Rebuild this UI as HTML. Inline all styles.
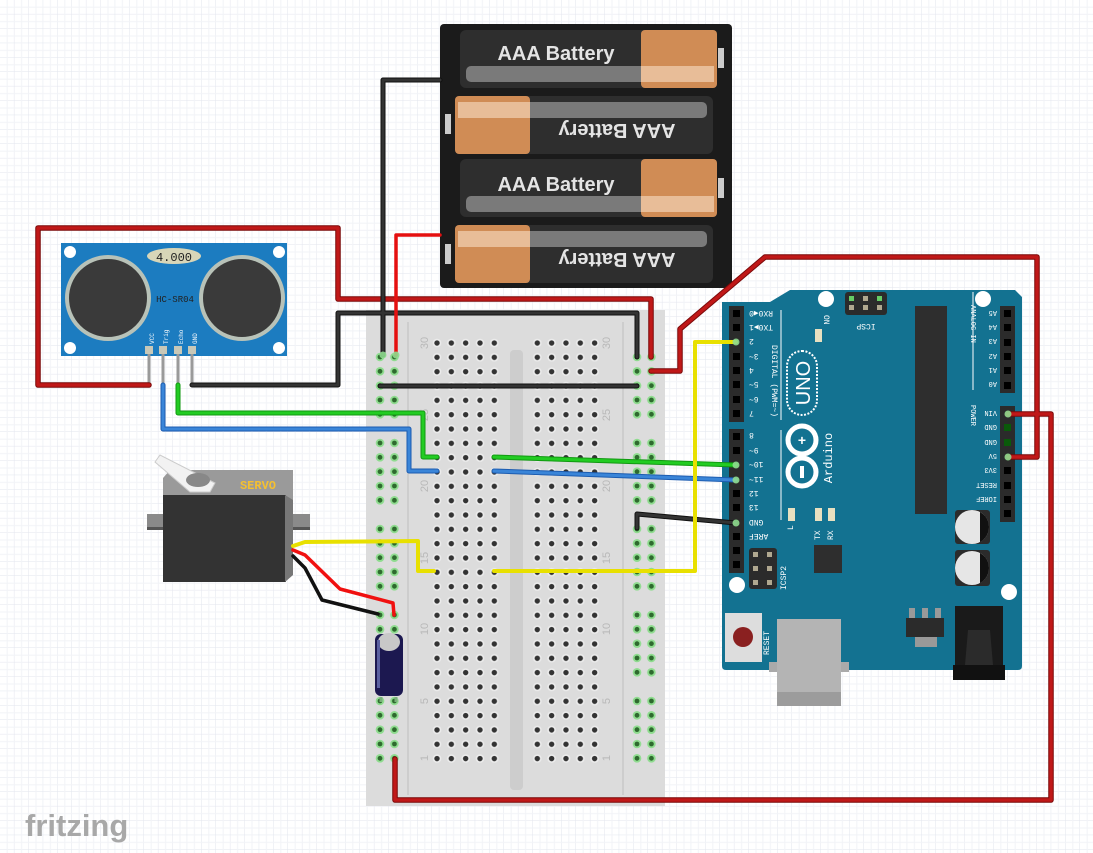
<!DOCTYPE html>
<html><head><meta charset="utf-8"><style>
html,body{margin:0;padding:0;background:#fff;}
svg{display:block;font-family:"Liberation Sans",sans-serif;}
.m{font-family:"Liberation Mono",monospace;}
</style></head><body>
<svg width="1093" height="853" viewBox="0 0 1093 853" xmlns="http://www.w3.org/2000/svg">
<defs>
<pattern id="grid" x="0" y="0" width="14.4" height="14.4" patternUnits="userSpaceOnUse">
<path d="M14.4 0V14.4H0" fill="none" stroke="#e2e5ee" stroke-width="1"/>
<path d="M7.2 0V14.4M0 7.2H14.4" fill="none" stroke="#f2f3f7" stroke-width="1"/>
</pattern>
<pattern id="mh" x="430" y="336" width="14.33" height="14.33" patternUnits="userSpaceOnUse">
<circle cx="7" cy="7" r="4.3" fill="#ececec"/><circle cx="7" cy="7" r="2.7" fill="#333"/>
</pattern>
<pattern id="rh" x="373" y="350" width="14.4" height="86" patternUnits="userSpaceOnUse">
<g id="rg"><circle cx="7" cy="7" r="4.3" fill="#8fdc8f"/><circle cx="7" cy="7" r="2.4" fill="#2e6a2e"/></g>
<use href="#rg" y="14.33"/><use href="#rg" y="28.66"/><use href="#rg" y="43"/><use href="#rg" y="57.33"/>
</pattern>
<pattern id="rh2" x="630" y="350" width="14.4" height="86" patternUnits="userSpaceOnUse">
<use href="#rg"/><use href="#rg" y="14.33"/><use href="#rg" y="28.66"/><use href="#rg" y="43"/><use href="#rg" y="57.33"/>
</pattern>
</defs>
<rect width="1093" height="853" fill="url(#grid)"/>

<!-- Battery pack -->
<rect x="440" y="24" width="292" height="264" rx="4" fill="#1b1b1b"/>
<g>
<rect x="460" y="30" width="257" height="58" rx="6" fill="#2e2e2e"/>
<rect x="641" y="30" width="76" height="58" rx="4" fill="#d08c55"/>
<rect x="466" y="66" width="248" height="16" rx="5" fill="#7a7a7a"/>
<rect x="641" y="66" width="73" height="16" fill="#e8bd98"/>
<text x="556" y="60" font-size="20" font-weight="bold" fill="#e4e4e4" text-anchor="middle">AAA Battery</text>
</g>
<g transform="translate(1173,248) rotate(180)">
<rect x="460" y="94" width="258" height="58" rx="6" fill="#2e2e2e"/>
<rect x="643" y="94" width="75" height="58" rx="4" fill="#d08c55"/>
<rect x="466" y="130" width="249" height="16" rx="5" fill="#7a7a7a"/>
<rect x="643" y="130" width="72" height="16" fill="#e8bd98"/>
<text x="556" y="124" font-size="20" font-weight="bold" fill="#e4e4e4" text-anchor="middle">AAA Battery</text>
</g>
<g>
<rect x="460" y="159" width="257" height="58" rx="6" fill="#2e2e2e"/>
<rect x="641" y="159" width="76" height="58" rx="4" fill="#d08c55"/>
<rect x="466" y="196" width="248" height="16" rx="5" fill="#7a7a7a"/>
<rect x="641" y="196" width="73" height="16" fill="#e8bd98"/>
<text x="556" y="191" font-size="20" font-weight="bold" fill="#e4e4e4" text-anchor="middle">AAA Battery</text>
</g>
<g transform="translate(1173,506) rotate(180)">
<rect x="460" y="223" width="258" height="58" rx="6" fill="#2e2e2e"/>
<rect x="643" y="223" width="75" height="58" rx="4" fill="#d08c55"/>
<rect x="466" y="259" width="249" height="16" rx="5" fill="#7a7a7a"/>
<rect x="643" y="259" width="72" height="16" fill="#e8bd98"/>
<text x="556" y="253" font-size="20" font-weight="bold" fill="#e4e4e4" text-anchor="middle">AAA Battery</text>
</g>
<g fill="#ccc"><rect x="718" y="48" width="6" height="20"/><rect x="445" y="114" width="6" height="20"/><rect x="718" y="178" width="6" height="20"/><rect x="445" y="244" width="6" height="20"/></g>

<!-- Breadboard -->
<rect x="366" y="310" width="299" height="496" fill="#dcdcdc"/>
<rect x="510" y="350" width="13" height="440" rx="4" fill="#cdcdcd"/>
<line x1="408" y1="322" x2="408" y2="795" stroke="#c8c8c8" stroke-width="1.5"/>
<line x1="623" y1="322" x2="623" y2="795" stroke="#c8c8c8" stroke-width="1.5"/>
<rect x="430" y="336" width="72" height="430" fill="url(#mh)"/>
<rect x="530" y="336" width="72" height="430" fill="url(#mh)"/>
<rect x="373" y="350" width="29" height="416" fill="url(#rh)"/>
<rect x="630" y="350" width="29" height="416" fill="url(#rh2)"/>
<g font-size="11" fill="#b8b8b8">
<text transform="translate(428,343) rotate(-90)" text-anchor="middle">30</text>
<text transform="translate(428,415) rotate(-90)" text-anchor="middle">25</text>
<text transform="translate(428,486) rotate(-90)" text-anchor="middle">20</text>
<text transform="translate(428,558) rotate(-90)" text-anchor="middle">15</text>
<text transform="translate(428,629) rotate(-90)" text-anchor="middle">10</text>
<text transform="translate(428,701) rotate(-90)" text-anchor="middle">5</text>
<text transform="translate(428,758) rotate(-90)" text-anchor="middle">1</text>
<text transform="translate(610,343) rotate(-90)" text-anchor="middle">30</text>
<text transform="translate(610,415) rotate(-90)" text-anchor="middle">25</text>
<text transform="translate(610,486) rotate(-90)" text-anchor="middle">20</text>
<text transform="translate(610,558) rotate(-90)" text-anchor="middle">15</text>
<text transform="translate(610,629) rotate(-90)" text-anchor="middle">10</text>
<text transform="translate(610,701) rotate(-90)" text-anchor="middle">5</text>
<text transform="translate(610,758) rotate(-90)" text-anchor="middle">1</text>
</g>

<!-- HC-SR04 -->
<rect x="61" y="243" width="226" height="113" fill="#1c7cc0"/>
<g fill="#fff"><circle cx="70" cy="252" r="6"/><circle cx="279" cy="252" r="6"/><circle cx="70" cy="348" r="6"/><circle cx="279" cy="348" r="6"/></g>
<circle cx="108" cy="298" r="41" fill="#3a3a3a" stroke="#b8c2b8" stroke-width="4"/>
<circle cx="242" cy="298" r="41" fill="#3a3a3a" stroke="#b8c2b8" stroke-width="4"/>
<ellipse cx="174" cy="256" rx="27" ry="8" fill="#d8d6b8"/>
<text x="174" y="261" font-size="12" class="m" fill="#222" text-anchor="middle">4.000</text>
<text x="175" y="302" font-size="9" class="m" fill="#222" text-anchor="middle">HC-SR04</text>
<g font-size="6" fill="#fff" class="m">
<text transform="translate(154,344) rotate(-90)">VCC</text><text transform="translate(168,344) rotate(-90)">Trig</text>
<text transform="translate(183,344) rotate(-90)">Echo</text><text transform="translate(197,344) rotate(-90)">GND</text>
</g>
<g fill="#c8c8b8"><rect x="145" y="346" width="8" height="8"/><rect x="159" y="346" width="8" height="8"/><rect x="174" y="346" width="8" height="8"/><rect x="188" y="346" width="8" height="8"/></g>
<g stroke="#9a9a9a" stroke-width="3"><line x1="149" y1="354" x2="149" y2="385"/><line x1="163" y1="354" x2="163" y2="385"/><line x1="178" y1="354" x2="178" y2="385"/><line x1="192" y1="354" x2="192" y2="385"/></g>

<!-- Servo -->
<rect x="147" y="514" width="163" height="15" fill="#8a8a8a"/>
<rect x="147" y="527" width="163" height="3" fill="#555"/>
<polygon points="170,470 293,470 293,500 163,500 163,478" fill="#9a9a9a"/>
<rect x="163" y="495" width="123" height="87" fill="#333"/>
<polygon points="285,495 293,500 293,575 285,582" fill="#777"/>
<polygon points="155,462 160,455 205,478 215,483 210,492 190,492" fill="#f2f2f2" stroke="#ccc"/>
<ellipse cx="198" cy="480" rx="12" ry="7" fill="#888"/>
<text x="258" y="489" font-size="12" font-weight="bold" fill="#f5c030" text-anchor="middle" class="m">SERVO</text>

<!-- Capacitor -->
<rect x="375" y="634" width="28" height="62" rx="6" fill="#1c1850"/>
<ellipse cx="389" cy="642" rx="11" ry="9" fill="#c8c8c8"/>
<rect x="377" y="640" width="3" height="48" fill="#5a60a0"/>
<g stroke="#7ab07a" stroke-width="3"><line x1="381" y1="697" x2="381" y2="702"/><line x1="396" y1="697" x2="396" y2="702"/></g>

<!-- Arduino -->
<path d="M722 302 L770 302 L790 290 L1015 290 L1022 297 L1022 666 Q1022 670 1018 670 L726 670 Q722 670 722 666 Z" fill="#137291"/>
<g fill="#fff"><circle cx="826" cy="299" r="8"/><circle cx="983" cy="299" r="8"/><circle cx="737" cy="585" r="8"/><circle cx="1009" cy="592" r="8"/></g>
<rect x="729" y="306" width="15" height="116" fill="#2b2b2b"/>
<rect x="729" y="429" width="15" height="144" fill="#2b2b2b"/>
<rect x="1000" y="306" width="15" height="87" fill="#2b2b2b"/>
<rect x="1000" y="406" width="15" height="116" fill="#2b2b2b"/>
<g fill="#000">
<rect x="733" y="310" width="7" height="7"/><rect x="733" y="324" width="7" height="7"/><rect x="733" y="353" width="7" height="7"/><rect x="733" y="367" width="7" height="7"/><rect x="733" y="381" width="7" height="7"/><rect x="733" y="396" width="7" height="7"/><rect x="733" y="410" width="7" height="7"/>
<rect x="733" y="433" width="7" height="7"/><rect x="733" y="447" width="7" height="7"/><rect x="733" y="490" width="7" height="7"/><rect x="733" y="504" width="7" height="7"/><rect x="733" y="533" width="7" height="7"/><rect x="733" y="547" width="7" height="7"/><rect x="733" y="561" width="7" height="7"/>
<rect x="1004" y="310" width="7" height="7"/><rect x="1004" y="324" width="7" height="7"/><rect x="1004" y="339" width="7" height="7"/><rect x="1004" y="353" width="7" height="7"/><rect x="1004" y="367" width="7" height="7"/><rect x="1004" y="382" width="7" height="7"/>
<rect x="1004" y="467" width="7" height="7"/><rect x="1004" y="482" width="7" height="7"/><rect x="1004" y="496" width="7" height="7"/><rect x="1004" y="510" width="7" height="7"/>
</g>
<g fill="#0a5a0a"><rect x="1004" y="424" width="7" height="7"/><rect x="1004" y="439" width="7" height="7"/></g>
<g font-size="8" fill="#fff" class="m">
<g text-anchor="end">
<text transform="translate(749,311) rotate(180)">RX0◀0</text>
<text transform="translate(749,325) rotate(180)">TX0▶1</text>
<text transform="translate(749,339) rotate(180)">2</text><text transform="translate(749,354) rotate(180)">3~</text>
<text transform="translate(749,368) rotate(180)">4</text><text transform="translate(749,382) rotate(180)">5~</text>
<text transform="translate(749,397) rotate(180)">6~</text><text transform="translate(749,411) rotate(180)">7</text>
<text transform="translate(749,433) rotate(180)">8</text><text transform="translate(749,448) rotate(180)">9~</text>
<text transform="translate(749,462) rotate(180)">10~</text><text transform="translate(749,477) rotate(180)">11~</text>
<text transform="translate(749,491) rotate(180)">12</text><text transform="translate(749,505) rotate(180)">13</text>
<text transform="translate(749,520) rotate(180)">GND</text><text transform="translate(749,534) rotate(180)">AREF</text>
</g>
<text transform="translate(772,345) rotate(90)">DIGITAL (PWM=~)</text>
<g font-size="7">
<text transform="translate(997,311) rotate(180)">A5</text>
<text transform="translate(997,325) rotate(180)">A4</text>
<text transform="translate(997,339) rotate(180)">A3</text>
<text transform="translate(997,354) rotate(180)">A2</text>
<text transform="translate(997,368) rotate(180)">A1</text>
<text transform="translate(997,382) rotate(180)">A0</text>
<text transform="translate(997,411) rotate(180)">VIN</text>
<text transform="translate(997,425) rotate(180)">GND</text>
<text transform="translate(997,440) rotate(180)">GND</text>
<text transform="translate(997,454) rotate(180)">5V</text>
<text transform="translate(997,468) rotate(180)">3V3</text>
<text transform="translate(997,483) rotate(180)">RESET</text>
<text transform="translate(997,497) rotate(180)">IOREF</text>
<text transform="translate(971,305) rotate(90)">ANALOG IN</text>
<text transform="translate(971,405) rotate(90)">POWER</text>
</g>
<text transform="translate(824,315) rotate(90)">ON</text>
<text x="866" y="324" transform="rotate(180,866,324)" text-anchor="middle">ICSP</text>
<text transform="translate(793,530) rotate(-90)">L</text>
<text transform="translate(820,540) rotate(-90)">TX</text>
<text transform="translate(833,540) rotate(-90)">RX</text>
<text transform="translate(786,590) rotate(-90)">ICSP2</text>
<text transform="translate(769,655) rotate(-90)">RESET</text>
</g>
<line x1="781" y1="310" x2="781" y2="420" stroke="#fff" stroke-width="1"/>
<line x1="781" y1="430" x2="781" y2="520" stroke="#fff" stroke-width="1"/>
<line x1="973" y1="292" x2="973" y2="390" stroke="#fff" stroke-width="1"/>
<rect x="815" y="329" width="7" height="13" fill="#e8e0c0"/>
<rect x="845" y="292" width="42" height="23" rx="3" fill="#2b2b2b"/>
<g fill="#b0a890"><rect x="849" y="305" width="5" height="5"/><rect x="863" y="305" width="5" height="5"/><rect x="877" y="305" width="5" height="5"/><rect x="863" y="296" width="5" height="5"/></g>
<g fill="#6c6"><rect x="849" y="296" width="5" height="5"/><rect x="877" y="296" width="5" height="5"/></g>
<rect x="787" y="351" width="30" height="64" rx="15" fill="none" stroke="#fff" stroke-width="2" stroke-dasharray="2,1.5"/>
<text transform="translate(810,383) rotate(-90)" font-size="20" fill="#fff" text-anchor="middle">UNO</text>
<circle cx="802" cy="440" r="14" fill="none" stroke="#fff" stroke-width="5"/>
<circle cx="802" cy="472" r="14" fill="none" stroke="#fff" stroke-width="5"/>
<text x="802" y="445" font-size="14" font-weight="bold" fill="#fff" text-anchor="middle">+</text>
<rect x="800" y="466" width="4" height="12" fill="#fff"/>
<text transform="translate(832,458) rotate(-90)" font-size="12" fill="#fff" text-anchor="middle" class="m">Arduino</text>
<rect x="915" y="306" width="32" height="208" fill="#2e2e2e"/>
<g fill="#e8e0c0"><rect x="788" y="508" width="7" height="13"/><rect x="815" y="508" width="7" height="13"/><rect x="828" y="508" width="7" height="13"/></g>
<rect x="955" y="510" width="35" height="34" rx="3" fill="#2b2b2b"/>
<circle cx="972" cy="527" r="17" fill="#e6e6e6"/><path d="M980 512 A17 17 0 0 1 980 542 Z" fill="#111"/>
<rect x="955" y="550" width="35" height="36" rx="3" fill="#2b2b2b"/>
<circle cx="972" cy="568" r="17" fill="#e6e6e6"/><path d="M980 553 A17 17 0 0 1 980 583 Z" fill="#111"/>
<rect x="749" y="548" width="28" height="41" rx="3" fill="#2b2b2b"/>
<g fill="#b0a890"><rect x="753" y="552" width="5" height="5"/><rect x="767" y="552" width="5" height="5"/><rect x="753" y="566" width="5" height="5"/><rect x="767" y="566" width="5" height="5"/><rect x="753" y="580" width="5" height="5"/><rect x="767" y="580" width="5" height="5"/></g>
<rect x="814" y="545" width="28" height="28" fill="#2e2e2e"/>
<rect x="725" y="613" width="37" height="49" fill="#ddd"/>
<circle cx="743" cy="637" r="10" fill="#8a2020"/>
<rect x="769" y="662" width="80" height="10" fill="#aaa"/>
<rect x="777" y="619" width="64" height="87" fill="#b4b4b4"/>
<rect x="777" y="692" width="64" height="14" fill="#9c9c9c"/>
<g fill="#999"><rect x="909" y="608" width="6" height="10"/><rect x="922" y="608" width="6" height="10"/><rect x="935" y="608" width="6" height="10"/><rect x="915" y="637" width="22" height="10"/></g>
<rect x="906" y="618" width="38" height="19" fill="#2b2b2b"/>
<rect x="955" y="606" width="48" height="62" fill="#1a1a1a"/>
<rect x="953" y="665" width="52" height="15" fill="#111"/>
<path d="M968 630 L990 630 L993 665 L965 665 Z" fill="#2b2b2b"/>

<!-- Wires -->
<g fill="none" stroke-linejoin="round" stroke-linecap="round">
<g stroke="#7a0a0a" stroke-width="5.5">
<polyline points="149,385 38,385 38,228 338,228 338,299 651,299 651,357"/>
<polyline points="651,371 680,371 680,329 765,257 1037,257 1037,457 1008,457"/>
<polyline points="1008,414 1051,414 1051,800 395,800 395,759"/>
</g>
<g stroke="#c01818" stroke-width="3.5">
<polyline points="149,385 38,385 38,228 338,228 338,299 651,299 651,357"/>
<polyline points="651,371 680,371 680,329 765,257 1037,257 1037,457 1008,457"/>
<polyline points="1008,414 1051,414 1051,800 395,800 395,759"/>
</g>
<g stroke="#111" stroke-width="5"><polyline points="192,385 338,385 338,313 637,313 637,357"/>
<polyline points="440,80 383,80 383,355"/><polyline points="380,386 637,386"/>
<polyline points="637,528 637,514 736,523"/></g>
<g stroke="#333" stroke-width="3"><polyline points="192,385 338,385 338,313 637,313 637,357"/>
<polyline points="440,80 383,80 383,355"/><polyline points="380,386 637,386"/>
<polyline points="637,528 637,514 736,523"/></g>
<polyline points="440,235 396,235 396,355" stroke="#e51010" stroke-width="3.5"/>
<g stroke="#119911" stroke-width="5"><polyline points="178,385 178,413 423,413 423,457 437,457"/><polyline points="494,457 736,465"/></g>
<g stroke="#22cc22" stroke-width="3"><polyline points="178,385 178,413 423,413 423,457 437,457"/><polyline points="494,457 736,465"/></g>
<g stroke="#1c5cb0" stroke-width="5"><polyline points="163,385 163,429 409,429 409,471 437,471"/><polyline points="494,471 736,480"/></g>
<g stroke="#3a85d8" stroke-width="3"><polyline points="163,385 163,429 409,429 409,471 437,471"/><polyline points="494,471 736,480"/></g>
<g stroke="#e8e000" stroke-width="4"><polyline points="736,342 695,342 695,571 494,571"/>
<polyline points="293,546 305,542 418,541 418,571 434,571"/></g>
<polyline points="293,550 305,555 340,589 393,603 394,615" stroke="#f01010" stroke-width="3.5"/>
<polyline points="293,556 305,568 322,600 378,614" stroke="#111" stroke-width="3.5"/>
</g>
<g fill="#8fdc8f" opacity="0.9"><circle cx="383" cy="355" r="3.5"/><circle cx="396" cy="355" r="3.5"/><circle cx="736" cy="342" r="3.5"/><circle cx="736" cy="465" r="3.5"/><circle cx="736" cy="480" r="3.5"/><circle cx="736" cy="523" r="3.5"/><circle cx="1008" cy="414" r="3.5"/><circle cx="1008" cy="457" r="3.5"/></g>

<text x="25" y="836" font-size="31" fill="#a8a8a8" font-weight="bold">fritzing</text>
</svg>
</body></html>
